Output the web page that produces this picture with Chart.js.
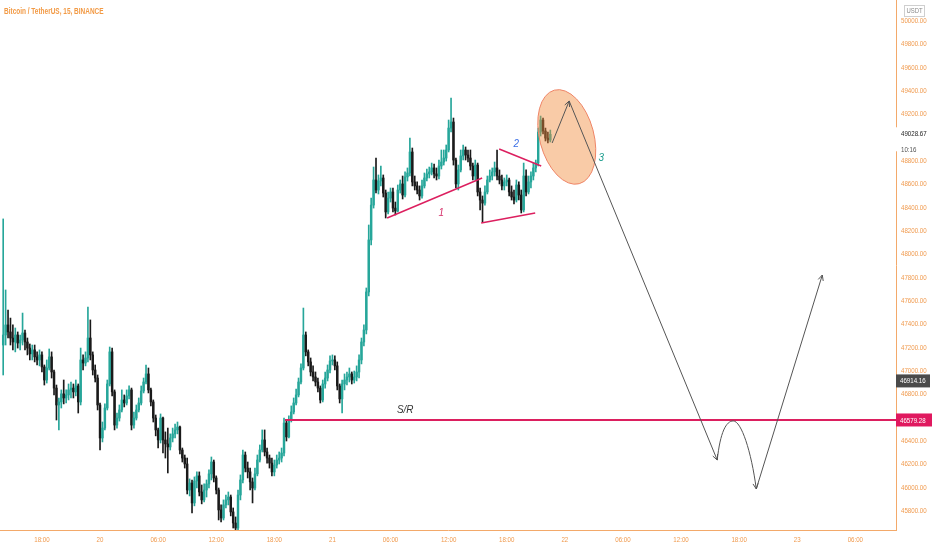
<!DOCTYPE html>
<html>
<head>
<meta charset="utf-8">
<title>BTCUSDT 15m</title>
<script src="https://cdn.jsdelivr.net/npm/chart.js@4.4.1/dist/chart.umd.min.js"></script>
<style>
  html, body { margin: 0; padding: 0; background: #ffffff; }
  #wrap { width: 932px; height: 550px; position: relative; }
</style>
</head>
<body>
<div id="wrap"><canvas id="chart"></canvas></div>
<script>
// 15 minute candles, time in hours counted from day 20 00:00
const startHour = -10;
const stepHours = 0.25;
const firstOpen = 47222;

const closes = [
  47308, 47394, 47334, 47282, 47248, 47308, 47239, 47265, 47325, 47248,
  47196, 47146, 47180, 47120, 47094, 47137, 47034, 46922, 47025, 47120,
  46991, 46853, 46708, 46734, 46803, 46768, 46794, 46837, 46853, 46820,
  46871, 46734, 47094, 47068, 47111, 47282, 47137, 47008, 46939, 46708,
  46425, 46510, 46682, 46888, 47163, 46820, 46536, 46596, 46665, 46751,
  46725, 46786, 46837, 46536, 46596, 46665, 46725, 46828, 46905, 46974,
  46837, 46734, 46596, 46494, 46408, 46596, 46408, 46374, 46348, 46425,
  46460, 46494, 46519, 46322, 46253, 46202, 45979, 46039, 45868, 46056,
  46100, 45962, 45894, 45979, 46031, 46117, 46219, 46082, 45979, 45808,
  45739, 45851, 45894, 45919, 45791, 45696, 45653, 45936, 46065, 46279,
  46167, 46134, 46048, 45996, 46117, 46236, 46322, 46408, 46305, 46253,
  46210, 46134, 46193, 46236, 46253, 46296, 46553, 46434, 46579, 46648,
  46725, 46794, 46905, 47025, 47308, 47163, 47077, 46991, 46948, 46905,
  46853, 46751, 46888, 46939, 47008, 47085, 47094, 47043, 46871, 46760,
  46888, 46922, 46948, 46974, 46922, 46948, 46991, 47094, 47248, 47351,
  47677, 48123, 48422, 48637, 48551, 48628, 48654, 48525, 48363, 48482,
  48534, 48396, 48371, 48551, 48603, 48508, 48663, 48697, 48877, 48620,
  48586, 48551, 48500, 48586, 48654, 48689, 48706, 48740, 48689, 48671,
  48757, 48791, 48825, 48894, 49082, 49134, 48808, 48603, 48723, 48843,
  48894, 48851, 48825, 48757, 48671, 48765, 48534, 48465, 48439, 48534,
  48637, 48671, 48706, 48740, 48671, 48637, 48586, 48620, 48637, 48534,
  48491, 48465, 48594, 48508, 48380, 48671, 48534, 48620, 48671, 48740,
  48782, 49048, 49151, 49057, 48996, 48980, 49028.67
];

const highs = [
  48303, 47694, 47522, 47453, 47394, 47368, 47334, 47308, 47496, 47351,
  47282, 47231, 47222, 47222, 47163, 47180, 47163, 47051, 47094, 47188,
  47163, 47008, 46879, 46768, 46837, 46922, 46837, 46888, 46905, 46888,
  46922, 46888, 47196, 47137, 47163, 47548, 47437, 47163, 47051, 46965,
  46725, 46562, 46717, 46922, 47205, 47196, 46837, 46639, 46708, 46837,
  46794, 46837, 46871, 46853, 46648, 46708, 46768, 46871, 46939, 47051,
  47025, 46853, 46751, 46622, 46510, 46631, 46605, 46477, 46510, 46460,
  46510, 46545, 46562, 46528, 46339, 46279, 46253, 46074, 46065, 46091,
  46134, 46134, 46022, 46031, 46065, 46151, 46262, 46236, 46100, 45996,
  45851, 45894, 45936, 45962, 45936, 45825, 45748, 45979, 46108, 46322,
  46305, 46219, 46167, 46082, 46167, 46279, 46365, 46494, 46494, 46339,
  46279, 46253, 46236, 46279, 46305, 46339, 46596, 46579, 46614, 46700,
  46768, 46845, 46939, 47060, 47539, 47334, 47180, 47111, 47043, 46991,
  46939, 46871, 46922, 46991, 47051, 47129, 47137, 47129, 47077, 46888,
  46922, 46974, 46991, 47025, 46991, 46999, 47043, 47137, 47282, 47394,
  47711, 48251, 48482, 48748, 48825, 48680, 48757, 48680, 48551, 48534,
  48568, 48568, 48448, 48594, 48637, 48671, 48706, 48740, 48996, 48911,
  48671, 48620, 48586, 48637, 48697, 48731, 48748, 48782, 48774, 48740,
  48808, 48894, 48894, 48937, 49151, 49340, 49168, 48825, 48765, 48894,
  48937, 48920, 48894, 48894, 48782, 48808, 48782, 48568, 48500, 48586,
  48671, 48723, 48740, 48791, 48894, 48723, 48680, 48654, 48680, 48654,
  48586, 48551, 48637, 48620, 48551, 48782, 48723, 48671, 48706, 48782,
  48808, 49082, 49185, 49168, 49082, 49048, 49065
];

const lows = [
  46965, 47222, 47282, 47222, 47180, 47163, 47196, 47180, 47222, 47180,
  47137, 47094, 47094, 47077, 47051, 47043, 46991, 46879, 46896, 47008,
  46939, 46794, 46579, 46494, 46682, 46717, 46725, 46751, 46768, 46768,
  46786, 46639, 46708, 47008, 47043, 47077, 47094, 46965, 46905, 46665,
  46322, 46391, 46494, 46665, 46871, 46786, 46494, 46510, 46570, 46648,
  46691, 46708, 46760, 46494, 46510, 46579, 46648, 46708, 46811, 46888,
  46811, 46700, 46562, 46443, 46339, 46382, 46296, 46253, 46125, 46322,
  46391, 46425, 46460, 46288, 46219, 46167, 45945, 45928, 45782, 45843,
  45996, 45928, 45860, 45877, 45919, 45996, 46065, 46048, 45945, 45722,
  45705, 45722, 45825, 45851, 45757, 45653, 45636, 45636, 45894, 46039,
  46134, 46082, 45979, 45868, 45979, 46100, 46219, 46305, 46271, 46210,
  46167, 46100, 46100, 46167, 46202, 46219, 46271, 46399, 46425, 46562,
  46631, 46708, 46777, 46888, 47008, 47129, 47043, 46957, 46914, 46871,
  46820, 46725, 46734, 46853, 46914, 46982, 47051, 47008, 46837, 46725,
  46639, 46837, 46879, 46905, 46888, 46896, 46914, 46939, 47060, 47214,
  47317, 47643, 48080, 48396, 48525, 48517, 48586, 48491, 48311, 48346,
  48448, 48363, 48337, 48363, 48525, 48474, 48491, 48628, 48671, 48586,
  48551, 48517, 48465, 48482, 48568, 48628, 48654, 48680, 48654, 48637,
  48646, 48731, 48765, 48799, 48877, 49048, 48765, 48568, 48551, 48706,
  48808, 48808, 48791, 48723, 48637, 48637, 48500, 48380, 48277, 48422,
  48517, 48620, 48637, 48671, 48637, 48603, 48551, 48551, 48586, 48500,
  48465, 48431, 48448, 48465, 48354, 48363, 48500, 48517, 48568, 48637,
  48706, 48757, 49014, 49031, 48971, 48954, 48963
];

const priceTicks = [
  45800, 46000, 46200, 46400, 46600, 46800, 47000, 47200, 47400, 47600, 47800,
  48000, 48200, 48400, 48600, 48800, 49000, 49200, 49400, 49600, 49800, 50000
];
const timeTicks = [-6, 0, 6, 12, 18, 24, 30, 36, 42, 48, 54, 60, 66, 72, 78];
const timeLabels = ['18:00', '20', '06:00', '12:00', '18:00', '21', '06:00', '12:00',
  '18:00', '22', '06:00', '12:00', '18:00', '23', '06:00'];

const lastPrice = 49028.67;
const lastCountdown = '10:16';
const markerPrice = 46914.16;
const supportPrice = 46579.28;
const supportStart = 19.1;

// drawings, in (hours, price)
const wedgeLines = [
  [[29.65, 48311], [39.46, 48654]],
  [[41.22, 48903], [45.56, 48757]],
  [[39.36, 48268], [44.94, 48354]]
];
const pathLegs = [[46.69, 48954], [48.45, 49314], [63.74, 46236]];
const pathPeak = [65.39, 46571];
const pathDip = [67.77, 45988];
const pathTarget = [74.59, 47822];
const zone = { t: 48.2, p: 49006, halfHours: 2.8, halfPrice: 415 };
const waveLabels = [
  { text: '1', t: 35.23, p: 48354, color: '#d6336c' },
  { text: '2', t: 42.98, p: 48946, color: '#3b6fe6' },
  { text: '3', t: 51.76, p: 48826, color: '#1c9e8e' },
  { text: 'S/R', t: 31.51, p: 46665, color: '#333333' }
];

const upColor = '#26a69a';
const downColor = '#1a1a1a';
const axisColor = '#f3a96a';
const axisText = '#f09a4e';
const lineRed = '#dc1f5f';

const candleTimes = closes.map((c, i) => startHour + i * stepHours);
const opens = closes.map((c, i) => (i === 0 ? firstOpen : closes[i - 1]));
const candleColors = closes.map((c, i) => (c >= opens[i] ? upColor : downColor));

function condensedText(ctx, text, x, y, font, color, align, squeeze) {
  ctx.save();
  ctx.font = font;
  ctx.fillStyle = color;
  ctx.textBaseline = 'middle';
  const w = ctx.measureText(text).width * squeeze;
  let left = x;
  if (align === 'center') left = x - w / 2;
  if (align === 'right') left = x - w;
  ctx.translate(left, y);
  ctx.scale(squeeze, 1);
  ctx.textAlign = 'left';
  ctx.fillText(text, 0, 0);
  ctx.restore();
}

function arrowHead(ctx, fromX, fromY, toX, toY) {
  const ang = Math.atan2(toY - fromY, toX - fromX);
  const len = 6;
  ctx.beginPath();
  ctx.moveTo(toX - len * Math.cos(ang - 0.45), toY - len * Math.sin(ang - 0.45));
  ctx.lineTo(toX, toY);
  ctx.lineTo(toX - len * Math.cos(ang + 0.45), toY - len * Math.sin(ang + 0.45));
  ctx.stroke();
}

const overlay = {
  id: 'overlay',
  afterDraw(chart) {
    const { ctx, chartArea: area, scales } = chart;
    const px = t => scales.x.getPixelForValue(t);
    const py = p => scales.y.getPixelForValue(p);

    ctx.save();
    ctx.beginPath();
    ctx.rect(area.left, area.top, area.right - area.left, area.bottom - area.top);
    ctx.clip();

    // support / resistance
    ctx.strokeStyle = lineRed;
    ctx.lineWidth = 2;
    ctx.beginPath();
    ctx.moveTo(px(supportStart), py(supportPrice));
    ctx.lineTo(area.right, py(supportPrice));
    ctx.stroke();

    // wedge lines
    ctx.lineWidth = 1.5;
    wedgeLines.forEach(([a, b]) => {
      ctx.beginPath();
      ctx.moveTo(px(a[0]), py(a[1]));
      ctx.lineTo(px(b[0]), py(b[1]));
      ctx.stroke();
    });

    // orange zone
    const cx = px(zone.t), cy = py(zone.p);
    const rx = px(zone.t + zone.halfHours) - cx;
    const ry = py(zone.p - zone.halfPrice) - cy;
    ctx.beginPath();
    ctx.ellipse(cx, cy, rx, ry, -0.26, 0, Math.PI * 2);
    ctx.fillStyle = 'rgba(242, 140, 60, 0.45)';
    ctx.fill();
    ctx.strokeStyle = '#ee8466';
    ctx.lineWidth = 1;
    ctx.stroke();

    // projected path
    ctx.strokeStyle = '#555555';
    ctx.lineWidth = 1;
    const pts = pathLegs.map(([t, p]) => [px(t), py(p)]);
    const pk = [px(pathPeak[0]), py(pathPeak[1])];
    const dp = [px(pathDip[0]), py(pathDip[1])];
    const tg = [px(pathTarget[0]), py(pathTarget[1])];
    ctx.beginPath();
    ctx.moveTo(pts[0][0], pts[0][1]);
    ctx.lineTo(pts[1][0], pts[1][1]);
    ctx.lineTo(pts[2][0], pts[2][1]);
    ctx.bezierCurveTo(pts[2][0] + 3, pts[2][1] - 28, pk[0] - 7, pk[1], pk[0], pk[1]);
    ctx.bezierCurveTo(pk[0] + 8, pk[1], dp[0] - 5, dp[1] - 38, dp[0], dp[1]);
    ctx.lineTo(tg[0], tg[1]);
    ctx.stroke();
    arrowHead(ctx, pts[0][0], pts[0][1], pts[1][0], pts[1][1]);
    arrowHead(ctx, pts[1][0], pts[1][1], pts[2][0], pts[2][1]);
    arrowHead(ctx, dp[0] - 5, dp[1] - 38, dp[0], dp[1]);
    arrowHead(ctx, dp[0], dp[1], tg[0], tg[1]);

    // wave labels
    waveLabels.forEach(l => {
      condensedText(ctx, l.text, px(l.t), py(l.p), 'italic 11px "Liberation Sans"', l.color, 'center', 0.9);
    });
    ctx.restore();

    // price scale labels
    const tickFont = '7.5px "Liberation Sans"';
    priceTicks.forEach(v => {
      condensedText(ctx, v.toFixed(2), area.right + 5, py(v), tickFont, axisText, 'left', 0.82);
    });
    timeTicks.forEach((t, i) => {
      condensedText(ctx, timeLabels[i], px(t), area.bottom + 10, tickFont, axisText, 'center', 0.82);
    });

    // last price
    const ly = py(lastPrice);
    ctx.fillStyle = '#ffffff';
    ctx.fillRect(area.right - 0.5, ly - 7, 40, 24);
    condensedText(ctx, lastPrice.toFixed(2), area.right + 5, ly, tickFont, '#222222', 'left', 0.82);
    condensedText(ctx, lastCountdown, area.right + 5, ly + 16, tickFont, '#555555', 'left', 0.82);

    // marker label
    const my = py(markerPrice);
    ctx.fillStyle = '#4a4a4a';
    ctx.fillRect(area.right, my - 6.5, 34, 13);
    condensedText(ctx, markerPrice.toFixed(2), area.right + 4, my + 0.5, tickFont, '#ffffff', 'left', 0.82);

    // support label
    const sy = py(supportPrice);
    ctx.fillStyle = '#e0195f';
    ctx.fillRect(area.right, sy - 6.5, 36, 13);
    condensedText(ctx, supportPrice.toFixed(2), area.right + 4, sy + 0.5, tickFont, '#ffffff', 'left', 0.82);

    // currency badge
    ctx.strokeStyle = '#cfcfcf';
    ctx.lineWidth = 1;
    ctx.fillStyle = '#ffffff';
    ctx.fillRect(904.5, 5.5, 20, 11);
    ctx.strokeRect(904.5, 5.5, 20, 11);
    condensedText(ctx, 'USDT', 914.5, 11.5, '7px "Liberation Sans"', '#8a8a8a', 'center', 0.85);

    // title
    condensedText(ctx, 'Bitcoin / TetherUS, 15, BINANCE', 4, 12, 'bold 9px "Liberation Sans"', '#f29a45', 'left', 0.72);
  }
};

const ctx = document.getElementById('chart').getContext('2d');
new Chart(ctx, {
  type: 'bar',
  data: {
    datasets: [
      {
        label: 'wick',
        data: candleTimes.map((t, i) => ({ x: t, y: [lows[i], highs[i]] })),
        backgroundColor: candleColors,
        barThickness: 1,
        grouped: false,
        order: 2
      },
      {
        label: 'body',
        data: candleTimes.map((t, i) => ({ x: t, y: [opens[i], closes[i]] })),
        backgroundColor: candleColors,
        barThickness: 1.8,
        minBarLength: 1,
        grouped: false,
        order: 1
      }
    ]
  },
  options: {
    responsive: true,
    maintainAspectRatio: false,
    animation: false,
    layout: { padding: 0 },
    plugins: { legend: { display: false }, tooltip: { enabled: false } },
    scales: {
      x: {
        type: 'linear',
        offset: false,
        min: -10.33,
        max: 82.2,
        grid: { display: false, offset: false },
        border: { color: axisColor, width: 1 },
        ticks: { display: false },
        afterBuildTicks(s) { s.ticks = timeTicks.map(v => ({ value: v })); },
        afterFit(s) { s.height = 20; }
      },
      y: {
        position: 'right',
        min: 45636,
        max: 50180,
        grid: { display: false },
        border: { color: axisColor, width: 1 },
        ticks: { display: false },
        afterBuildTicks(s) { s.ticks = priceTicks.map(v => ({ value: v })); },
        afterFit(s) { s.width = 36; }
      }
    }
  },
  plugins: [overlay]
});
</script>
</body>
</html>
